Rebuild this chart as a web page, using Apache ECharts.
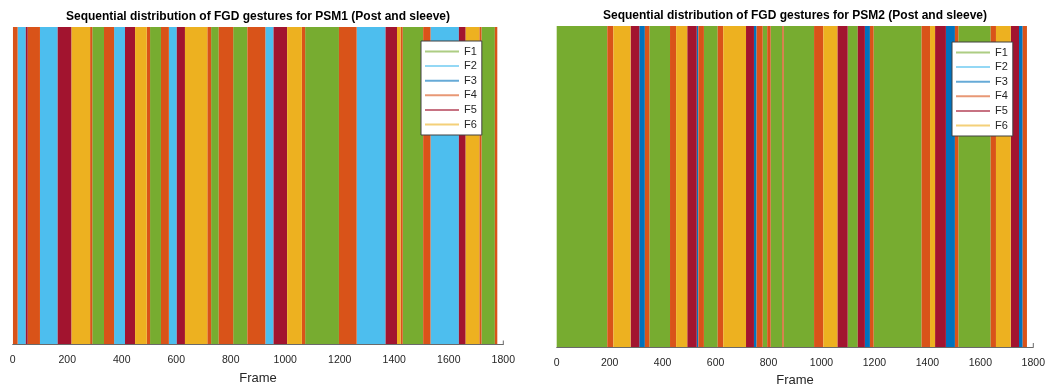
<!DOCTYPE html>
<html>
<head>
<meta charset="utf-8">
<script src="https://cdn.jsdelivr.net/npm/echarts@6/dist/echarts.min.js"></script>
<style>
html,body{margin:0;padding:0;background:#fff;}
#chart{width:1048px;height:385px;}
</style>
</head>
<body>
<div id="chart"></div>
<script>
// ---- data ----
const gestureNames = ['F1', 'F2', 'F3', 'F4', 'F5', 'F6'];
const gestureColors = ['#77AC30', '#4DBEEE', '#0072BD', '#D95319', '#A2142F', '#EDB120'];
const xTicks = [0, 200, 400, 600, 800, 1000, 1200, 1400, 1600, 1800];
const titles = [
  'Sequential distribution of FGD gestures for PSM1 (Post and sleeve)',
  'Sequential distribution of FGD gestures for PSM2 (Post and sleeve)'
];

// segment boundaries (frames) and the gesture of each segment
const psm1Bounds = [1,18,48,55,100,165,216,284,292,335,372,412,449,492,504,544,573,602,632,714,728,756,809,861,927,957,1007,1061,1073,1197,1262,1368,1410,1423,1431,1506,1533,1637,1662,1712,1720,1769,1778];
const psm1Gestures = ['F4','F2','F5','F4','F2','F5','F6','F4','F1','F4','F2','F5','F6','F4','F1','F4','F2','F5','F6','F4','F1','F4','F1','F4','F2','F5','F6','F4','F1','F4','F2','F5','F6','F4','F1','F4','F2','F5','F6','F4','F1','F4'];

const psm2Bounds = [0,191,214,279,312,333,350,428,451,493,529,535,556,608,629,715,745,755,778,795,808,852,857,972,1007,1060,1099,1137,1164,1183,1197,1378,1410,1429,1470,1504,1517,1639,1659,1715,1746,1760,1776];
const psm2Gestures = ['F1','F4','F6','F5','F3','F4','F1','F4','F6','F5','F3','F4','F1','F4','F6','F5','F3','F4','F1','F4','F1','F4','F1','F4','F6','F5','F1','F5','F3','F4','F1','F4','F6','F5','F3','F4','F1','F4','F6','F5','F3','F4'];

// ---- chart ----
const FONT = '"Liberation Sans", Arial, Helvetica, sans-serif';
const TXT = '#262626';

function renderBand(params, api) {
  const s = api.coord([api.value(0), 1]);
  const e = api.coord([api.value(1), 0]);
  return {
    type: 'rect',
    shape: { x: s[0], y: s[1], width: e[0] - s[0], height: e[1] - s[1] },
    style: { fill: api.visual('color') }
  };
}

function buildSeries(bounds, gestures, axisIndex) {
  return gestureNames.map((g, gi) => {
    const data = [];
    for (let i = 0; i < gestures.length; i++) {
      if (gestures[i] === g) data.push([bounds[i], bounds[i + 1]]);
    }
    return {
      type: 'custom',
      name: g,
      xAxisIndex: axisIndex,
      yAxisIndex: axisIndex,
      renderItem: renderBand,
      itemStyle: { color: gestureColors[gi] },
      encode: { x: [0, 1] },
      data: data,
      silent: true,
      animation: false
    };
  });
}

function legendData() {
  return gestureNames.map((g, gi) => ({
    name: g,
    icon: 'rect',
    itemStyle: { color: gestureColors[gi], opacity: 0.6 }
  }));
}

function makeLegend(left, top) {
  return {
    orient: 'vertical',
    left: left, top: top,
    data: legendData(),
    itemWidth: 34, itemHeight: 2, itemGap: 1.6, itemTextGap: 3,
    padding: [4, 5, 4, 4],
    backgroundColor: '#fff',
    borderColor: '#404040', borderWidth: 1,
    selectedMode: false,
    textStyle: { fontFamily: FONT, fontSize: 11, color: TXT, lineHeight: 13 }
  };
}

function makeXAxis(gridIndex, labelMargin, nameGap) {
  return {
    type: 'value', gridIndex: gridIndex,
    min: xTicks[0], max: xTicks[xTicks.length - 1],
    interval: xTicks[1] - xTicks[0],
    name: 'Frame', nameLocation: 'middle', nameGap: nameGap,
    nameTextStyle: { fontFamily: FONT, fontSize: 13, color: TXT },
    axisLine: { show: true, lineStyle: { color: '#6a6a6a', width: 1 } },
    axisTick: { show: false },
    axisLabel: { fontFamily: FONT, fontSize: 10.5, color: TXT, margin: labelMargin,
      formatter: v => String(v) },
    splitLine: { show: false },
    z: 10
  };
}

function makeYAxis(gridIndex) {
  return {
    type: 'value', gridIndex: gridIndex, min: 0, max: 1,
    show: false
  };
}

const chart = echarts.init(document.getElementById('chart'), null, { renderer: 'canvas' });
chart.setOption({
  animation: false,
  backgroundColor: '#fff',
  title: [
    { text: titles[0], left: 258, top: 11, textAlign: 'center', padding: 0,
      textStyle: { fontFamily: FONT, fontSize: 12, fontWeight: 'bold', color: '#000' } },
    { text: titles[1], left: 795, top: 10, textAlign: 'center', padding: 0,
      textStyle: { fontFamily: FONT, fontSize: 12, fontWeight: 'bold', color: '#000' } }
  ],
  legend: [makeLegend(421, 41), makeLegend(952, 42)],
  grid: [
    { left: 12.7, top: 27, width: 490.6, height: 317.5, containLabel: false, outerBoundsMode: 'none' },
    { left: 556.7, top: 26, width: 476.6, height: 321, containLabel: false, outerBoundsMode: 'none' }
  ],
  xAxis: [makeXAxis(0, 10, 27), makeXAxis(1, 11, 27)],
  yAxis: [makeYAxis(0), makeYAxis(1)],
  graphic: [],
  series: buildSeries(psm1Bounds, psm1Gestures, 0).concat(buildSeries(psm2Bounds, psm2Gestures, 1))
});

// small end-of-axis tick marks (as in the reference), placed via the axis scale
function endTick(gridIdx) {
  const p = chart.convertToPixel({ xAxisIndex: gridIdx, yAxisIndex: gridIdx }, [xTicks[xTicks.length - 1], 0]);
  return { type: 'line', shape: { x1: p[0], y1: p[1], x2: p[0], y2: p[1] - 4 },
    style: { stroke: '#6a6a6a', lineWidth: 1 }, z: 100 };
}
chart.setOption({ graphic: [endTick(0), endTick(1)] });
</script>
</body>
</html>
